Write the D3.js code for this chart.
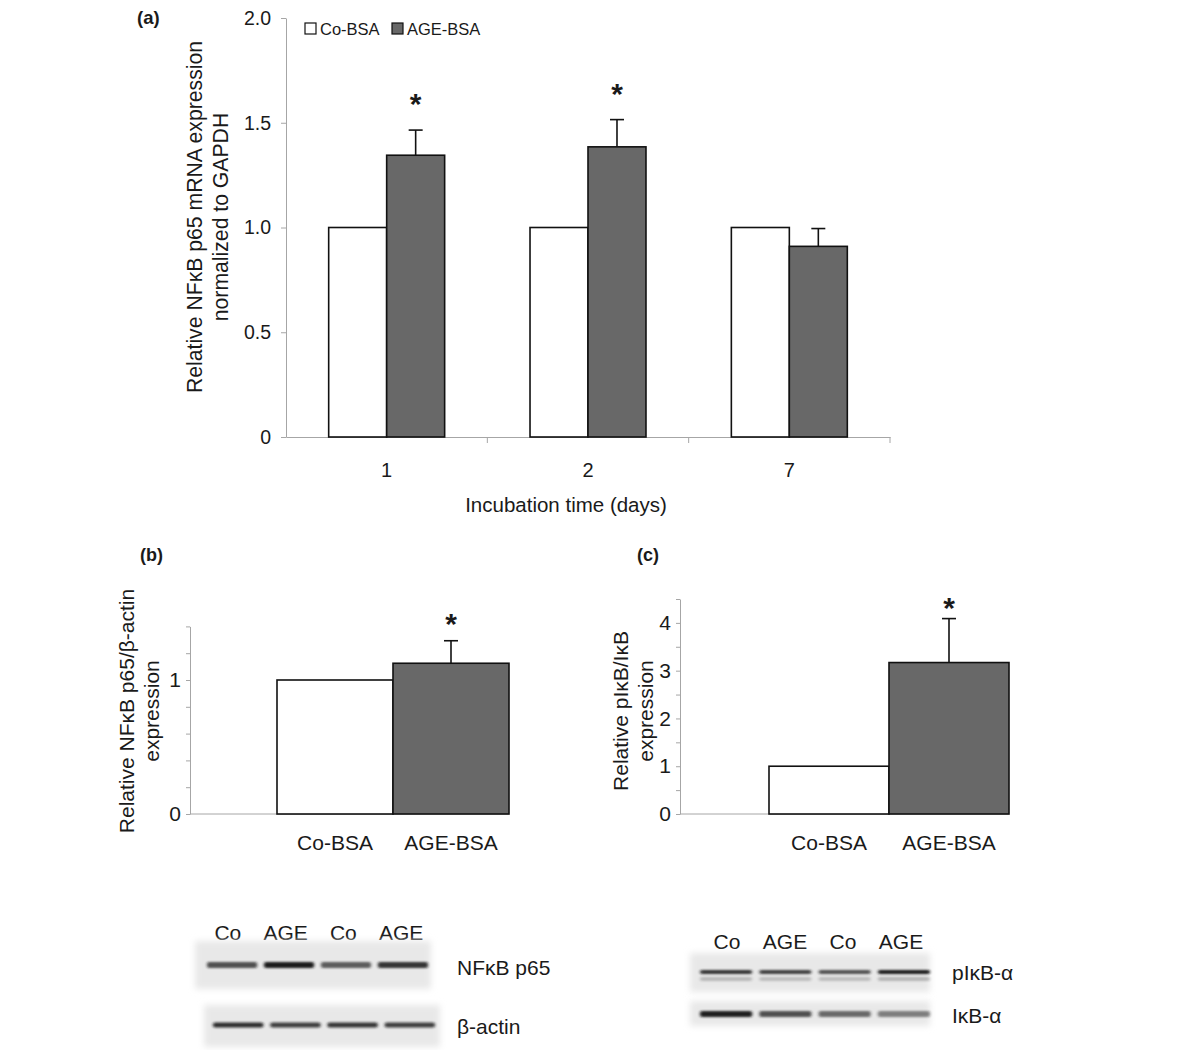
<!DOCTYPE html>
<html><head><meta charset="utf-8">
<script src="https://cdn.jsdelivr.net/npm/d3@7"></script>
<style>
body{margin:0;background:#fff;}
svg{display:block;font-family:"Liberation Sans",Arial,sans-serif;}
</style></head>
<body>
<svg id="chart" width="1200" height="1050"></svg>
<script>
// ---------- data ----------
const dayCategories = ["1", "2", "7"];
const seriesNames = ["Co-BSA", "AGE-BSA"];
const coBSAValues = [1, 1, 1];
const ageBSAValues = [1.345, 1.385, 0.91];
const ageBSAErrors = [0.12, 0.13, 0.085];
const significantA = [true, true, false];
const yTicksA = [0, 0.5, 1, 1.5, 2];

const groupsB = ["Co-BSA", "AGE-BSA"];
const valuesB = [1, 1.125];
const errorsB = [0, 0.168];
const significantB = [false, true];
const yTicksB = [0, 0.2, 0.4, 0.6, 0.8, 1, 1.2, 1.4];
const yLabelsB = [0, 1];

const groupsC = ["Co-BSA", "AGE-BSA"];
const valuesC = [1, 3.17];
const errorsC = [0, 0.92];
const significantC = [false, true];
const yTicksC = [0, 0.5, 1, 1.5, 2, 2.5, 3, 3.5, 4, 4.5];
const yLabelsC = [0, 1, 2, 3, 4];

const laneLabels = ["Co", "AGE", "Co", "AGE"];
const p65Intensity = [0.72, 0.97, 0.66, 0.85];
const actinIntensity = [0.88, 0.8, 0.84, 0.8];
const pIkBIntensity = [0.85, 0.8, 0.72, 0.97];
const pIkBLowerIntensity = [0.22, 0.2, 0.2, 0.24];
const IkBIntensity = [0.95, 0.72, 0.6, 0.5];

// ---------- style ----------
const WHITE = "#ffffff", DARK = "#686868", AXIS = "#a6a6a6", TXT = "#1a1a1a";
const svg = d3.select("#chart");

const defs = svg.append("defs");
defs.append("filter").attr("id", "blurBand").attr("x", "-20%").attr("y", "-200%").attr("width", "140%").attr("height", "500%")
  .append("feGaussianBlur").attr("stdDeviation", "1.6 1.2");
defs.append("filter").attr("id", "blurBox").attr("x", "-10%").attr("y", "-30%").attr("width", "120%").attr("height", "160%")
  .append("feGaussianBlur").attr("stdDeviation", "3");

function styleAxis(g) {
  g.selectAll("path.domain").attr("stroke", AXIS).attr("stroke-width", 1);
  g.selectAll(".tick line").attr("stroke", AXIS);
  g.selectAll(".tick text").attr("fill", TXT).attr("font-family", "Liberation Sans, Arial, sans-serif");
}

function errorBar(g, x, yTop, yBase) {
  g.append("line").attr("x1", x).attr("x2", x).attr("y1", yBase).attr("y2", yTop)
    .attr("stroke", "#111").attr("stroke-width", 1.6);
  g.append("line").attr("x1", x - 7).attr("x2", x + 7).attr("y1", yTop).attr("y2", yTop)
    .attr("stroke", "#111").attr("stroke-width", 1.6);
}

function star(g, x, y) {
  g.append("text").attr("x", x).attr("y", y).attr("text-anchor", "middle")
    .attr("font-size", 30).attr("font-weight", "bold").attr("fill", TXT).text("*");
}

function rotLabel(g, lines, xs, yc, size) {
  lines.forEach((t, i) => {
    g.append("text").attr("transform", `translate(${xs[i]},${yc}) rotate(-90)`)
      .attr("text-anchor", "middle").attr("font-size", size).attr("fill", TXT).text(t);
  });
}

// ---------- panel (a) ----------
{
  const g = svg.append("g");
  const x0 = d3.scaleBand().domain(dayCategories).range([286, 890]).paddingInner(0.424).paddingOuter(0.212);
  const x1 = d3.scaleBand().domain(seriesNames).range([0, x0.bandwidth()]);
  const y = d3.scaleLinear().domain([0, 2]).range([437, 18]);

  const ya = g.append("g").attr("transform", "translate(286,0)")
    .call(d3.axisLeft(y).tickValues(yTicksA).tickSize(5).tickSizeOuter(0).tickPadding(10)
      .tickFormat(d => d === 0 ? "0" : d.toFixed(1)));
  ya.selectAll(".tick text").attr("font-size", 19.5);
  styleAxis(ya);

  const xa = g.append("g").attr("transform", "translate(0,437)")
    .call(d3.axisBottom(x0).tickSize(0).tickSizeOuter(0).tickPadding(26));
  xa.selectAll(".tick text").attr("font-size", 20);
  styleAxis(xa);
  // category boundary ticks
  const step = x0.step();
  const bounds = dayCategories.map(d => x0(d) + x0.bandwidth() / 2 + step / 2);
  bounds.forEach(b => g.append("line").attr("x1", b).attr("x2", b).attr("y1", 437).attr("y2", 443).attr("stroke", AXIS));

  const rows = dayCategories.map((d, i) => ({ d, vals: [coBSAValues[i], ageBSAValues[i]], err: ageBSAErrors[i], sig: significantA[i] }));
  rows.forEach(r => {
    seriesNames.forEach((s, j) => {
      g.append("rect").attr("x", x0(r.d) + x1(s)).attr("y", y(r.vals[j]))
        .attr("width", x1.bandwidth()).attr("height", y(0) - y(r.vals[j]))
        .attr("fill", j === 0 ? WHITE : DARK).attr("stroke", "#111").attr("stroke-width", 1.6);
    });
    const cx = x0(r.d) + x1("AGE-BSA") + x1.bandwidth() / 2;
    errorBar(g, cx, y(r.vals[1] + r.err), y(r.vals[1]));
    if (r.sig) star(g, cx, y(r.vals[1] + r.err) - 16);
  });

  // legend
  const leg = g.append("g").attr("font-size", 16.5).attr("fill", TXT);
  const legX = [305, 392];
  seriesNames.forEach((s, j) => {
    leg.append("rect").attr("x", legX[j]).attr("y", 23).attr("width", 11).attr("height", 11)
      .attr("fill", j === 0 ? WHITE : DARK).attr("stroke", "#111").attr("stroke-width", 1.2);
    leg.append("text").attr("x", legX[j] + 15).attr("y", 35).text(s);
  });

  g.append("text").attr("x", 137).attr("y", 24).attr("font-size", 18.5).attr("font-weight", "bold").attr("fill", TXT).text("(a)");
  rotLabel(g, ["Relative NF\u03baB p65 mRNA expression", "normalized to GAPDH"], [202, 228], 217, 21.2);
  g.append("text").attr("x", 566).attr("y", 512).attr("text-anchor", "middle").attr("font-size", 20.5).attr("fill", TXT)
    .text("Incubation time (days)");
}

// ---------- panels (b), (c) ----------
function smallPanel(opts) {
  const g = svg.append("g");
  const x = d3.scaleBand().domain(opts.groups).range(opts.barRange);
  const y = d3.scaleLinear().domain(opts.domain).range([814, opts.top]);
  const ya = g.append("g").attr("transform", `translate(${opts.axisX},0)`)
    .call(d3.axisLeft(y).tickValues(opts.ticks).tickSize(4).tickSizeOuter(0).tickPadding(5)
      .tickFormat(d => opts.labels.includes(d) ? d3.format("d")(d) : ""));
  ya.selectAll(".tick text").attr("font-size", 21);
  styleAxis(ya);
  g.append("line").attr("x1", opts.axisX).attr("x2", opts.barRange[1]).attr("y1", 814).attr("y2", 814).attr("stroke", AXIS);

  opts.groups.forEach((grp, i) => {
    const v = opts.values[i];
    g.append("rect").attr("x", x(grp)).attr("y", y(v)).attr("width", x.bandwidth()).attr("height", y(0) - y(v))
      .attr("fill", i === 0 ? WHITE : DARK).attr("stroke", "#111").attr("stroke-width", 1.6);
    const cx = x(grp) + x.bandwidth() / 2;
    if (opts.errors[i] > 0) errorBar(g, cx, y(v + opts.errors[i]), y(v));
    if (opts.sig[i]) star(g, cx, y(v + opts.errors[i]) - opts.starOff);
    g.append("text").attr("x", cx).attr("y", 850).attr("text-anchor", "middle").attr("font-size", 21).attr("fill", TXT).text(grp);
  });
  g.append("text").attr("x", opts.tagX).attr("y", 561).attr("font-size", 18).attr("font-weight", "bold").attr("fill", TXT).text(opts.tag);
  rotLabel(g, opts.ylabel, opts.ylabelX, 711, 21);
}

smallPanel({ groups: groupsB, values: valuesB, errors: errorsB, sig: significantB, domain: [0, 1.4], top: 626.4,
  ticks: yTicksB, labels: yLabelsB, axisX: 190, barRange: [277, 509], starOff: 7, tag: "(b)", tagX: 140,
  ylabel: ["Relative NF\u03baB p65/\u03b2-actin", "expression"], ylabelX: [134, 159] });

smallPanel({ groups: groupsC, values: valuesC, errors: errorsC, sig: significantC, domain: [0, 4.5], top: 599,
  ticks: yTicksC, labels: yLabelsC, axisX: 680, barRange: [769, 1009], starOff: 1, tag: "(c)", tagX: 637,
  ylabel: ["Relative pI\u03baB/I\u03baB", "expression"], ylabelX: [628, 653] });

// ---------- western blots ----------
function blot(opts) {
  const g = svg.append("g");
  const lanes = d3.scaleBand().domain(d3.range(laneLabels.length)).range(opts.laneRange);
  opts.labelsY && laneLabels.forEach((l, i) => {
    g.append("text").attr("x", lanes(i) + lanes.bandwidth() / 2).attr("y", opts.labelsY).attr("text-anchor", "middle")
      .attr("font-size", 21).attr("fill", TXT).text(l);
  });
  opts.strips.forEach(st => {
    const sl = d3.scaleBand().domain(d3.range(laneLabels.length)).range(st.laneRange || opts.laneRange).paddingInner(0.12);
    g.append("rect").attr("x", st.box[0]).attr("y", st.box[1]).attr("width", st.box[2]).attr("height", st.box[3])
      .attr("fill", "#e8e8e8").attr("filter", "url(#blurBox)");
    st.bands.forEach(b => {
      b.intensity.forEach((v, i) => {
        g.append("rect").attr("x", sl(i)).attr("y", b.y - b.h / 2).attr("width", sl.bandwidth()).attr("height", b.h)
          .attr("rx", 2).attr("fill", "#141414").attr("opacity", v).attr("filter", "url(#blurBand)");
      });
    });
    g.append("text").attr("x", opts.labelX).attr("y", st.labelY).attr("font-size", 21).attr("fill", TXT).text(st.label);
  });
}

blot({ laneRange: [199, 430], labelsY: 940, labelX: 457,
  strips: [
    { box: [195, 941, 236, 48], laneRange: [207, 428], bands: [{ y: 965, h: 6, intensity: p65Intensity }], label: "NF\u03baB p65", labelY: 975 },
    { box: [204, 1005, 236, 42], laneRange: [213, 435], bands: [{ y: 1025, h: 5, intensity: actinIntensity }], label: "\u03b2-actin", labelY: 1034 }
  ] });

blot({ laneRange: [698, 930], labelsY: 949, labelX: 952,
  strips: [
    { box: [690, 953, 240, 39], laneRange: [700, 930], bands: [{ y: 972, h: 4, intensity: pIkBIntensity }, { y: 979, h: 4, intensity: pIkBLowerIntensity }], label: "pI\u03baB-\u03b1", labelY: 980 },
    { box: [690, 1001, 240, 25], laneRange: [700, 930], bands: [{ y: 1014, h: 6, intensity: IkBIntensity }], label: "I\u03baB-\u03b1", labelY: 1023 }
  ] });
</script>
</body></html>
